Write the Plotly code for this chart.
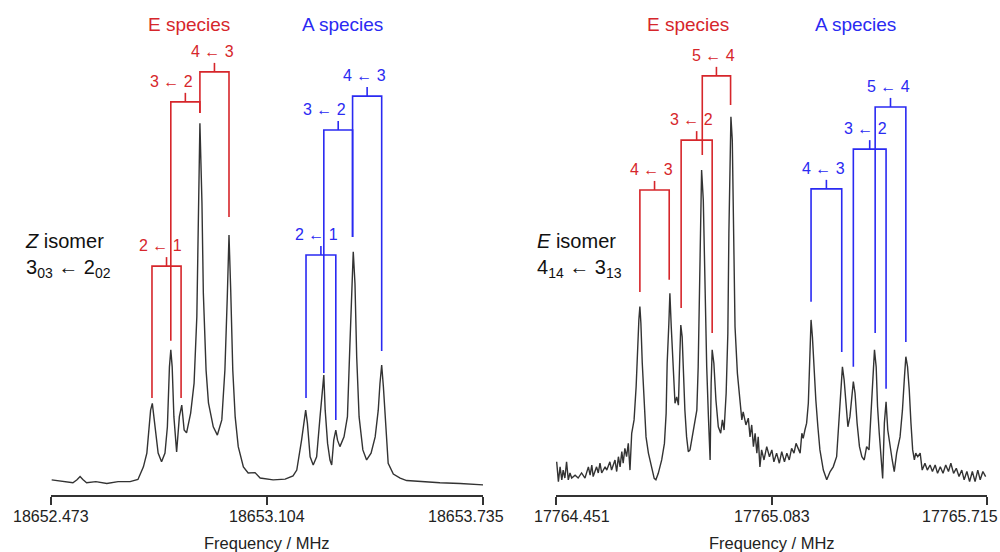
import plotly.graph_objects as go

# ---------------- data: Z isomer (left panel) ----------------
z_freq = [18652.475, 18652.505, 18652.537, 18652.549, 18652.558, 18652.566, 18652.577, 18652.604,
          18652.636, 18652.669, 18652.704, 18652.727, 18652.743, 18652.753, 18652.757, 18652.764,
          18652.769, 18652.777, 18652.786, 18652.796, 18652.806, 18652.813, 18652.819, 18652.823,
          18652.827, 18652.832, 18652.840, 18652.848, 18652.855, 18652.862, 18652.869, 18652.881,
          18652.891, 18652.899, 18652.905, 18652.908, 18652.914, 18652.918, 18652.926, 18652.933,
          18652.947, 18652.959, 18652.972, 18652.981, 18652.988, 18652.993, 18652.998, 18653.004,
          18653.011, 18653.020, 18653.035, 18653.049, 18653.069, 18653.084, 18653.122, 18653.157,
          18653.180, 18653.191, 18653.205, 18653.212, 18653.217, 18653.222, 18653.230, 18653.239,
          18653.249, 18653.259, 18653.266, 18653.270, 18653.274, 18653.281, 18653.288, 18653.293,
          18653.299, 18653.305, 18653.310, 18653.317, 18653.329, 18653.339, 18653.346, 18653.351,
          18653.356, 18653.361, 18653.366, 18653.373, 18653.384, 18653.395, 18653.408, 18653.420,
          18653.429, 18653.434, 18653.439, 18653.444, 18653.451, 18653.458, 18653.473, 18653.493,
          18653.512, 18653.551, 18653.609, 18653.668, 18653.736]
z_int = [0.006, 0.003, -0.002, 0.006, 0.015, 0.007, -0.002, 0.001,
         -0.004, 0.001, 0.001, 0.007, 0.042, 0.080, 0.125, 0.199,
         0.218, 0.144, 0.080, 0.056, 0.080, 0.153, 0.319, 0.366,
         0.319, 0.181, 0.083, 0.181, 0.213, 0.144, 0.136, 0.191,
         0.274, 0.458, 0.753, 0.994, 0.773, 0.524, 0.310, 0.219,
         0.153, 0.130, 0.172, 0.310, 0.513, 0.684, 0.532, 0.310,
         0.181, 0.098, 0.042, 0.025, 0.026, 0.011, 0.006, 0.008,
         0.017, 0.033, 0.116, 0.163, 0.199, 0.163, 0.070, 0.047,
         0.070, 0.181, 0.255, 0.296, 0.199, 0.107, 0.061, 0.047,
         0.116, 0.144, 0.116, 0.098, 0.125, 0.181, 0.375, 0.532,
         0.638, 0.550, 0.347, 0.181, 0.089, 0.061, 0.080, 0.125,
         0.199, 0.273, 0.324, 0.264, 0.144, 0.052, 0.022, 0.011,
         0.004, 0.001, -0.002, -0.004, -0.008]

# ---------------- data: E isomer (right panel) ----------------
e_freq = [17764.453, 17764.458, 17764.463, 17764.468, 17764.472, 17764.477, 17764.482, 17764.487,
          17764.492, 17764.497, 17764.507, 17764.516, 17764.526, 17764.536, 17764.546, 17764.551,
          17764.556, 17764.560, 17764.570, 17764.575, 17764.580, 17764.585, 17764.595, 17764.600,
          17764.609, 17764.614, 17764.624, 17764.629, 17764.634, 17764.639, 17764.644, 17764.648,
          17764.653, 17764.658, 17764.663, 17764.668, 17764.673, 17764.680, 17764.686, 17764.689,
          17764.694, 17764.697, 17764.700, 17764.704, 17764.709, 17764.715, 17764.722, 17764.732,
          17764.739, 17764.744, 17764.751, 17764.761, 17764.769, 17764.774, 17764.777, 17764.782,
          17764.785, 17764.789, 17764.795, 17764.800, 17764.805, 17764.810, 17764.814, 17764.817,
          17764.821, 17764.824, 17764.829, 17764.834, 17764.839, 17764.844, 17764.854, 17764.864,
          17764.868, 17764.873, 17764.878, 17764.883, 17764.888, 17764.893, 17764.898, 17764.903,
          17764.906, 17764.909, 17764.914, 17764.920, 17764.927, 17764.934, 17764.939, 17764.944,
          17764.950, 17764.955, 17764.958, 17764.961, 17764.964, 17764.968, 17764.971, 17764.976,
          17764.983, 17764.991, 17764.996, 17765.000, 17765.008, 17765.015, 17765.020, 17765.025,
          17765.030, 17765.035, 17765.040, 17765.044, 17765.049, 17765.054, 17765.061, 17765.069,
          17765.077, 17765.084, 17765.090, 17765.098, 17765.106, 17765.113, 17765.121, 17765.128,
          17765.135, 17765.142, 17765.149, 17765.155, 17765.162, 17765.167, 17765.172, 17765.176,
          17765.181, 17765.186, 17765.191, 17765.195, 17765.199, 17765.203, 17765.207, 17765.213,
          17765.219, 17765.225, 17765.235, 17765.245, 17765.255, 17765.264, 17765.274, 17765.281,
          17765.286, 17765.291, 17765.296, 17765.302, 17765.307, 17765.313, 17765.318, 17765.323,
          17765.328, 17765.334, 17765.341, 17765.348, 17765.355, 17765.362, 17765.369, 17765.375,
          17765.380, 17765.385, 17765.390, 17765.394, 17765.399, 17765.404, 17765.409, 17765.414,
          17765.419, 17765.424, 17765.430, 17765.437, 17765.443, 17765.450, 17765.460, 17765.467,
          17765.473, 17765.477, 17765.482, 17765.487, 17765.492, 17765.497, 17765.502, 17765.506,
          17765.512, 17765.519, 17765.525, 17765.533, 17765.540, 17765.548, 17765.555, 17765.563,
          17765.570, 17765.578, 17765.586, 17765.594, 17765.602, 17765.609, 17765.617, 17765.625,
          17765.633, 17765.641, 17765.648, 17765.656, 17765.664, 17765.672, 17765.680, 17765.688,
          17765.695, 17765.703, 17765.711]
e_int = [0.056, 0.001, 0.042, 0.006, 0.033, 0.011, 0.056, 0.006,
         0.025, 0.011, 0.019, 0.011, 0.025, 0.011, 0.042, 0.019,
         0.047, 0.015, 0.042, 0.025, 0.052, 0.025, 0.042, 0.033,
         0.056, 0.033, 0.061, 0.029, 0.070, 0.042, 0.084, 0.052,
         0.093, 0.070, 0.107, 0.033, 0.135, 0.172, 0.264, 0.347,
         0.449, 0.486, 0.440, 0.329, 0.218, 0.125, 0.080, 0.042,
         0.010, 0.006, 0.024, 0.061, 0.107, 0.190, 0.329, 0.440,
         0.523, 0.430, 0.310, 0.218, 0.236, 0.213, 0.347, 0.435,
         0.402, 0.310, 0.199, 0.125, 0.084, 0.089, 0.144, 0.199,
         0.319, 0.550, 0.864, 0.781, 0.532, 0.319, 0.181, 0.061,
         0.273, 0.366, 0.329, 0.227, 0.153, 0.135, 0.172, 0.144,
         0.246, 0.412, 0.689, 0.892, 1.012, 0.947, 0.689, 0.430,
         0.301, 0.209, 0.172, 0.194, 0.158, 0.177, 0.125, 0.158,
         0.098, 0.135, 0.080, 0.125, 0.042, 0.089, 0.061, 0.098,
         0.070, 0.089, 0.056, 0.080, 0.052, 0.084, 0.056, 0.080,
         0.061, 0.093, 0.080, 0.107, 0.089, 0.080, 0.135, 0.121,
         0.144, 0.163, 0.218, 0.347, 0.449, 0.402, 0.329, 0.227,
         0.153, 0.089, 0.033, 0.006, 0.029, 0.042, 0.070, 0.163,
         0.255, 0.319, 0.283, 0.209, 0.153, 0.181, 0.236, 0.278,
         0.246, 0.163, 0.098, 0.070, 0.061, 0.098, 0.089, 0.181,
         0.273, 0.366, 0.319, 0.209, 0.135, 0.080, 0.010, 0.163,
         0.222, 0.144, 0.098, 0.061, 0.029, 0.080, 0.125, 0.199,
         0.292, 0.347, 0.319, 0.255, 0.163, 0.089, 0.061, 0.080,
         0.070, 0.080, 0.033, 0.052, 0.033, 0.047, 0.029, 0.047,
         0.024, 0.042, 0.024, 0.047, 0.029, 0.052, 0.024, 0.038,
         0.015, 0.033, 0.006, 0.029, 0.001, 0.029, 0.001, 0.033,
         0.006, 0.029, 0.015]

# ---------------- axis ticks ----------------
z_ticks = [18652.473, 18653.104, 18653.735]
z_tick_text = ["18652.473", "18653.104", "18653.735"]
e_ticks = [17764.451, 17765.083, 17765.715]
e_tick_text = ["17764.451", "17765.083", "17765.715"]
x_title = "Frequency / MHz"

# ---------------- assignment brackets ----------------
z_br_species = ["E", "E", "E", "A", "A", "A"]
z_br_label = ["2 ← 1", "3 ← 2", "4 ← 3", "2 ← 1", "3 ← 2", "4 ← 3"]
z_br_flo = [18652.768, 18652.823, 18652.908, 18653.218, 18653.270, 18653.354]
z_br_fhi = [18652.853, 18652.908, 18652.993, 18653.305, 18653.354, 18653.439]
z_br_blo = [0.233, 0.391, 1.022, 0.233, 0.302, 0.679]
z_br_bhi = [0.233, 1.022, 0.734, 0.172, 0.679, 0.363]
z_br_top = [0.598, 1.053, 1.136, 0.629, 0.975, 1.069]

e_br_species = ["E", "E", "E", "A", "A", "A"]
e_br_label = ["4 ← 3", "3 ← 2", "5 ← 4", "4 ← 3", "3 ← 2", "5 ← 4"]
e_br_flo = [17764.697, 17764.818, 17764.880, 17765.199, 17765.323, 17765.387]
e_br_fhi = [17764.783, 17764.909, 17764.963, 17765.289, 17765.419, 17765.477]
e_br_blo = [0.526, 0.482, 0.906, 0.499, 0.319, 0.413]
e_br_bhi = [0.560, 0.413, 1.044, 0.360, 0.258, 0.388]
e_br_top = [0.809, 0.947, 1.125, 0.812, 0.922, 1.039]

species_names = ["E species", "A species"]
z_species_f = [18652.876, 18653.326]
e_species_f = [17764.838, 17765.328]
species_level = 1.266

z_isomer_text = "<i>Z</i> isomer<br>3<sub>03</sub> ← 2<sub>02</sub>"
e_isomer_text = "<i>E</i> isomer<br>4<sub>14</sub> ← 3<sub>13</sub>"

# ---------------- styles ----------------
FONT = "Liberation Sans, Arial, sans-serif"
COL = {"E": "#d6262b", "A": "#2a2af2"}
SPEC_COL = "#333333"
TICK_H = 0.025
z_label_dx = [-6, -14, -2, -4, -14, -3]
e_label_dx = [-3, -5, -3, -3, -4, -2]
z_ticklab_dx = [0, 0, -17]
e_ticklab_dx = [16, 0, -27]
Y_RANGE = [-0.036, 1.3352]
TICKLAB_Y = -0.0444   # paper units below the axis line
TITLE_Y = -0.0970

fig = go.Figure()

fig.add_trace(go.Scatter(x=z_freq, y=z_int, mode="lines", xaxis="x", yaxis="y",
                         line=dict(color=SPEC_COL, width=1.4), hoverinfo="skip"))
fig.add_trace(go.Scatter(x=e_freq, y=e_int, mode="lines", xaxis="x2", yaxis="y2",
                         line=dict(color=SPEC_COL, width=1.4), hoverinfo="skip"))

annotations = []


def add_brackets(species, labels, flo, fhi, blo, bhi, top, dx, xa, ya):
    for sp in ["E", "A"]:
        xs, ys = [], []
        for i in range(len(labels)):
            if species[i] != sp:
                continue
            mid = (flo[i] + fhi[i]) / 2
            xs += [flo[i], flo[i], fhi[i], fhi[i], None, mid, mid, None]
            ys += [blo[i], top[i], top[i], bhi[i], None, top[i], top[i] + TICK_H, None]
        fig.add_trace(go.Scatter(x=xs, y=ys, mode="lines", xaxis=xa, yaxis=ya,
                                 line=dict(color=COL[sp], width=1.6), hoverinfo="skip"))
    for i in range(len(labels)):
        mid = (flo[i] + fhi[i]) / 2
        annotations.append(dict(x=mid, y=top[i] + TICK_H, xref=xa, yref=ya, text=labels[i],
                                showarrow=False, xanchor="center", yanchor="bottom",
                                xshift=dx[i], yshift=1,
                                font=dict(family=FONT, size=16, color=COL[species[i]])))


add_brackets(z_br_species, z_br_label, z_br_flo, z_br_fhi, z_br_blo, z_br_bhi, z_br_top,
             z_label_dx, "x", "y")
add_brackets(e_br_species, e_br_label, e_br_flo, e_br_fhi, e_br_blo, e_br_bhi, e_br_top,
             e_label_dx, "x2", "y2")

for names, fs, xa, ya in [(species_names, z_species_f, "x", "y"),
                          (species_names, e_species_f, "x2", "y2")]:
    for n, f in zip(names, fs):
        annotations.append(dict(x=f, y=species_level, xref=xa, yref=ya, text=n,
                                showarrow=False, xanchor="center", yanchor="middle",
                                font=dict(family=FONT, size=19, color=COL[n[0]])))

# tick labels and axis titles
for ticks, texts, dxs, xa in [(z_ticks, z_tick_text, z_ticklab_dx, "x"),
                              (e_ticks, e_tick_text, e_ticklab_dx, "x2")]:
    for t, s, d in zip(ticks, texts, dxs):
        annotations.append(dict(x=t, y=TICKLAB_Y, xref=xa, yref="paper", text=s,
                                showarrow=False, xanchor="center", yanchor="middle", xshift=d,
                                font=dict(family=FONT, size=16, color="#222222")))
    annotations.append(dict(x=ticks[1], y=TITLE_Y, xref=xa, yref="paper", text=x_title,
                            showarrow=False, xanchor="center", yanchor="middle",
                            font=dict(family=FONT, size=16.5, color="#222222")))

annotations.append(dict(x=0.023, y=0.627, xref="paper", yref="y", text=z_isomer_text,
                        showarrow=False, xanchor="left", yanchor="middle", align="left",
                        font=dict(family=FONT, size=20, color="#111111")))
annotations.append(dict(x=0.535, y=0.627, xref="paper", yref="y", text=e_isomer_text,
                        showarrow=False, xanchor="left", yanchor="middle", align="left",
                        font=dict(family=FONT, size=20, color="#111111")))

axis_common = dict(showgrid=False, zeroline=False, showline=True, linecolor="#333333",
                   linewidth=1.5, ticks="outside", ticklen=8, tickwidth=1.5,
                   tickcolor="#333333", showticklabels=False)
yaxis_common = dict(range=Y_RANGE, visible=False, showgrid=False, zeroline=False)

fig.update_layout(
    width=1000, height=552,
    margin=dict(l=0, r=0, t=0, b=57),
    paper_bgcolor="white", plot_bgcolor="white",
    showlegend=False,
    xaxis=dict(domain=[0.051, 0.483], range=[z_ticks[0], z_ticks[-1]], tickvals=z_ticks,
               anchor="y", **axis_common),
    xaxis2=dict(domain=[0.556, 0.987], range=[e_ticks[0], e_ticks[-1]], tickvals=e_ticks,
                anchor="y2", **axis_common),
    yaxis=dict(anchor="x", **yaxis_common),
    yaxis2=dict(anchor="x2", **yaxis_common),
    annotations=annotations,
)

fig.write_html("out.html", config={"displayModeBar": False},
               post_script="document.body.style.margin='0';")
